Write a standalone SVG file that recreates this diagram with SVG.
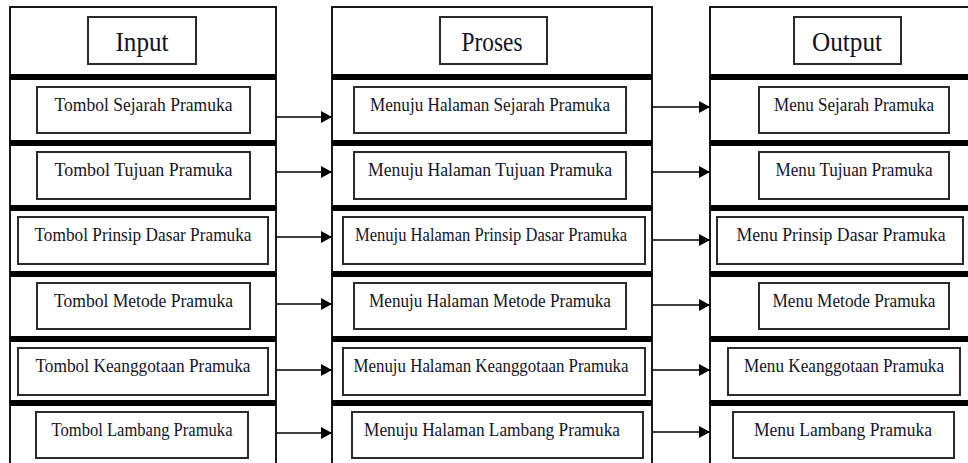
<svg xmlns="http://www.w3.org/2000/svg" width="968" height="463" viewBox="0 0 968 463">
  <style>
    .col { fill: #ffffff; stroke: #000000; stroke-width: 1.8; }
    .sep { fill: #000000; }
    .box { fill: #ffffff; stroke: #2b2b2b; stroke-width: 2; }
    .head { font-family: "Liberation Serif", "Times New Roman", serif; font-size: 28px; fill: #111122; text-anchor: middle; }
    .lbl { font-family: "Liberation Serif", "Times New Roman", serif; font-size: 18px; fill: #141428; text-anchor: middle; }
    .arrow { stroke: #000000; stroke-width: 1.6; fill: none; marker-end: url(#head); }
  </style>
  <defs>
    <marker id="head" markerUnits="userSpaceOnUse" markerWidth="12" markerHeight="12" refX="11" refY="6" orient="auto">
      <path d="M0,0 L11,6 L0,12 Z" fill="#000000"/>
    </marker>
  </defs>

  <rect width="968" height="463" fill="#ffffff"/>

  <!-- column frames -->
  <g id="col-input">
    <rect class="col" x="10" y="7" width="266" height="470"/>
    <rect class="sep" x="10" y="74" width="266" height="6"/>
    <rect class="sep" x="10" y="140" width="266" height="6"/>
    <rect class="sep" x="10" y="205" width="266" height="6"/>
    <rect class="sep" x="10" y="271" width="266" height="6"/>
    <rect class="sep" x="10" y="336" width="266" height="6"/>
    <rect class="sep" x="10" y="400" width="266" height="6"/>
  </g>
  <g id="col-proses">
    <rect class="col" x="332" y="7" width="320" height="470"/>
    <rect class="sep" x="332" y="74" width="320" height="6"/>
    <rect class="sep" x="332" y="140" width="320" height="6"/>
    <rect class="sep" x="332" y="205" width="320" height="6"/>
    <rect class="sep" x="332" y="271" width="320" height="6"/>
    <rect class="sep" x="332" y="336" width="320" height="6"/>
    <rect class="sep" x="332" y="400" width="320" height="6"/>
  </g>
  <g id="col-output">
    <rect class="col" x="710" y="7" width="270" height="470"/>
    <rect class="sep" x="710" y="74" width="270" height="6"/>
    <rect class="sep" x="710" y="140" width="270" height="6"/>
    <rect class="sep" x="710" y="205" width="270" height="6"/>
    <rect class="sep" x="710" y="271" width="270" height="6"/>
    <rect class="sep" x="710" y="336" width="270" height="6"/>
    <rect class="sep" x="710" y="400" width="270" height="6"/>
  </g>

  <!-- headers -->
  <g id="head-input">
    <rect class="box" x="88" y="17" width="108" height="47"/>
    <text class="head" x="142" y="51" textLength="53" lengthAdjust="spacingAndGlyphs">Input</text>
  </g>
  <g id="head-proses">
    <rect class="box" x="440" y="17" width="107" height="47"/>
    <text class="head" x="492" y="51" textLength="61" lengthAdjust="spacingAndGlyphs">Proses</text>
  </g>
  <g id="head-output">
    <rect class="box" x="794" y="17" width="107" height="47"/>
    <text class="head" x="847" y="51" textLength="70" lengthAdjust="spacingAndGlyphs">Output</text>
  </g>

  <!-- input column -->
  <g id="in-sejarah">
    <rect class="box" x="37" y="87" width="213" height="46"/>
    <text class="lbl" x="143.5" y="111" textLength="178" lengthAdjust="spacingAndGlyphs">Tombol Sejarah Pramuka</text>
  </g>
  <g id="in-tujuan">
    <rect class="box" x="37" y="152" width="213" height="47"/>
    <text class="lbl" x="143.5" y="176" textLength="178" lengthAdjust="spacingAndGlyphs">Tombol Tujuan Pramuka</text>
  </g>
  <g id="in-prinsip">
    <rect class="box" x="18" y="217" width="250" height="47"/>
    <text class="lbl" x="143" y="241" textLength="217" lengthAdjust="spacingAndGlyphs">Tombol Prinsip Dasar Pramuka</text>
  </g>
  <g id="in-metode">
    <rect class="box" x="37" y="283" width="213" height="46"/>
    <text class="lbl" x="143.5" y="307" textLength="179" lengthAdjust="spacingAndGlyphs">Tombol Metode Pramuka</text>
  </g>
  <g id="in-keanggotaan">
    <rect class="box" x="18" y="348" width="250" height="47"/>
    <text class="lbl" x="143" y="372" textLength="215" lengthAdjust="spacingAndGlyphs">Tombol Keanggotaan Pramuka</text>
  </g>
  <g id="in-lambang">
    <rect class="box" x="36" y="412" width="212" height="46"/>
    <text class="lbl" x="142" y="436" textLength="181" lengthAdjust="spacingAndGlyphs">Tombol Lambang Pramuka</text>
  </g>

  <!-- process column -->
  <g id="pr-sejarah">
    <rect class="box" x="354" y="87" width="272" height="46"/>
    <text class="lbl" x="490" y="111" textLength="240" lengthAdjust="spacingAndGlyphs">Menuju Halaman Sejarah Pramuka</text>
  </g>
  <g id="pr-tujuan">
    <rect class="box" x="354" y="152" width="272" height="47"/>
    <text class="lbl" x="490" y="176" textLength="244" lengthAdjust="spacingAndGlyphs">Menuju Halaman Tujuan Pramuka</text>
  </g>
  <g id="pr-prinsip">
    <rect class="box" x="343" y="217" width="302" height="47"/>
    <text class="lbl" x="491" y="241" textLength="272" lengthAdjust="spacingAndGlyphs">Menuju Halaman Prinsip Dasar Pramuka</text>
  </g>
  <g id="pr-metode">
    <rect class="box" x="354" y="283" width="272" height="46"/>
    <text class="lbl" x="490" y="307" textLength="242" lengthAdjust="spacingAndGlyphs">Menuju Halaman Metode Pramuka</text>
  </g>
  <g id="pr-keanggotaan">
    <rect class="box" x="343" y="348" width="302" height="47"/>
    <text class="lbl" x="491" y="372" textLength="275" lengthAdjust="spacingAndGlyphs">Menuju Halaman Keanggotaan Pramuka</text>
  </g>
  <g id="pr-lambang">
    <rect class="box" x="352" y="412" width="291" height="46"/>
    <text class="lbl" x="492" y="436" textLength="256" lengthAdjust="spacingAndGlyphs">Menuju Halaman Lambang Pramuka</text>
  </g>

  <!-- output column -->
  <g id="out-sejarah">
    <rect class="box" x="759" y="87" width="190" height="46"/>
    <text class="lbl" x="854" y="111" textLength="160" lengthAdjust="spacingAndGlyphs">Menu Sejarah Pramuka</text>
  </g>
  <g id="out-tujuan">
    <rect class="box" x="759" y="152" width="190" height="47"/>
    <text class="lbl" x="854" y="176" textLength="157" lengthAdjust="spacingAndGlyphs">Menu Tujuan Pramuka</text>
  </g>
  <g id="out-prinsip">
    <rect class="box" x="717" y="217" width="246" height="47"/>
    <text class="lbl" x="841" y="241" textLength="209" lengthAdjust="spacingAndGlyphs">Menu Prinsip Dasar Pramuka</text>
  </g>
  <g id="out-metode">
    <rect class="box" x="759" y="283" width="190" height="46"/>
    <text class="lbl" x="854" y="307" textLength="163" lengthAdjust="spacingAndGlyphs">Menu Metode Pramuka</text>
  </g>
  <g id="out-keanggotaan">
    <rect class="box" x="728" y="348" width="232" height="47"/>
    <text class="lbl" x="844" y="372" textLength="200" lengthAdjust="spacingAndGlyphs">Menu Keanggotaan Pramuka</text>
  </g>
  <g id="out-lambang">
    <rect class="box" x="733" y="412" width="221" height="46"/>
    <text class="lbl" x="843" y="436" textLength="178" lengthAdjust="spacingAndGlyphs">Menu Lambang Pramuka</text>
  </g>

  <!-- connectors -->
  <g id="connectors">
    <line class="arrow" x1="276" y1="117" x2="332" y2="117"/>
    <line class="arrow" x1="276" y1="172" x2="332" y2="172"/>
    <line class="arrow" x1="276" y1="237" x2="332" y2="237"/>
    <line class="arrow" x1="276" y1="304" x2="332" y2="304"/>
    <line class="arrow" x1="276" y1="370" x2="332" y2="370"/>
    <line class="arrow" x1="276" y1="433" x2="332" y2="433"/>
    <line class="arrow" x1="652" y1="107" x2="710" y2="107"/>
    <line class="arrow" x1="652" y1="172" x2="710" y2="172"/>
    <line class="arrow" x1="652" y1="240" x2="710" y2="240"/>
    <line class="arrow" x1="652" y1="305" x2="710" y2="305"/>
    <line class="arrow" x1="652" y1="370" x2="710" y2="370"/>
    <line class="arrow" x1="652" y1="432" x2="710" y2="432"/>
  </g>
</svg>
